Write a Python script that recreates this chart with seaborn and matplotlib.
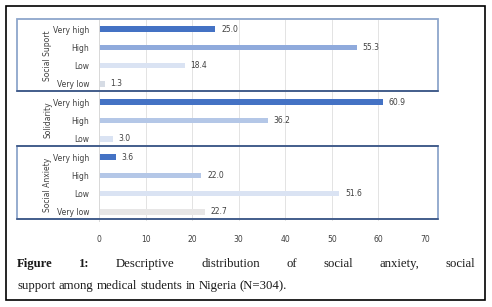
import matplotlib
matplotlib.use("Agg")
import matplotlib.pyplot as plt
from matplotlib.patches import Rectangle
from matplotlib.lines import Line2D
import pandas as pd
import seaborn as sns

# data
groups = ["Social Suport"] * 4 + ["Solidarity"] * 3 + ["Social Anxiety"] * 4
levels = ["Very high", "High", "Low", "Very low",
          "Very high", "High", "Low",
          "Very high", "High", "Low", "Very low"]
values = [25.0, 55.3, 18.4, 1.3,
          60.9, 36.2, 3.0,
          3.6, 22.0, 51.6, 22.7]
bar_colors = ["#4472C4", "#8FAADC", "#DAE3F3", "#D6DCE5",
              "#4472C4", "#B4C7E7", "#DAE3F3",
              "#4472C4", "#B4C7E7", "#DAE3F3", "#E7E6E6"]
x_ticks = [0, 10, 20, 30, 40, 50, 60, 70]

df = pd.DataFrame({"group": groups, "level": levels, "value": values})
df["row"] = [f"{g}|{l}" for g, l in zip(groups, levels)]

W, H = 492, 307
fig = plt.figure(figsize=(W / 100, H / 100), dpi=100)
ax = fig.add_axes([99 / W, 1 - 221 / H, 326 / W, 201 / H])

sns.barplot(data=df, y="row", x="value", hue="row", palette=bar_colors,
            order=list(df["row"]), width=0.3, legend=False, ax=ax,
            saturation=1)

ax.set_xlim(0, 70)
ax.set_ylim(10.5, -0.5)
ax.set_xticks(x_ticks)
ax.set_yticks(range(len(levels)))
ax.set_yticklabels(levels)
ax.set_xlabel("")
ax.set_ylabel("")
ax.tick_params(axis="both", length=0, labelsize=5.5, labelcolor="#404040")
ax.tick_params(axis="x", pad=10)
ax.tick_params(axis="y", pad=7)
ax.grid(axis="x", color="#E3E3E3", linewidth=0.7)
ax.set_axisbelow(True)
for s in ["top", "right", "bottom"]:
    ax.spines[s].set_visible(False)
ax.spines["left"].set_color("#D9D9D9")
ax.spines["left"].set_linewidth(0.7)

for i, v in enumerate(values):
    ax.text(v + 1.2, i, f"{v:.1f}", va="center", ha="left",
            fontsize=5.5, color="#404040")

# group boxes and labels
light = "#8EA6CC"
dark = "#2F4A7A"


def px(x, y):
    return x / W, 1 - y / H


for (y0, y1) in [(19, 91), (146, 219)]:
    fig.patches.append(Rectangle(px(17, y1), 421 / W, (y1 - y0) / H,
                                 transform=fig.transFigure, fill=False,
                                 edgecolor=light, linewidth=1.3))
for (x0, x1, y) in [(17, 438, 91), (17, 438, 146), (17, 438, 219)]:
    fig.lines.append(Line2D([x0 / W, x1 / W], [1 - y / H, 1 - y / H],
                            transform=fig.transFigure, color=dark,
                            linewidth=1.1))

for name, yc in [("Social Suport", 56), ("Solidarity", 120), ("Social Anxiety", 185)]:
    fig.text(*px(48, yc), name, rotation=90, ha="center", va="center",
             fontsize=5.5, color="#404040")

# outer border
fig.patches.append(Rectangle(px(6, 300), 479 / W, 294 / H,
                             transform=fig.transFigure, fill=False,
                             edgecolor="black", linewidth=1.2))

# justified caption
fig.canvas.draw()
renderer = fig.canvas.get_renderer()
cap_font = dict(family="Liberation Serif", fontsize=9.2, color="#1A1A1A")


def place_line(words, y, x0, x1, justify):
    arts = []
    for w, bold in words:
        t = fig.text(0, 1 - y / H, w, va="baseline", ha="left",
                     fontweight="bold" if bold else "normal", **cap_font)
        arts.append(t)
    widths = [a.get_window_extent(renderer).width for a in arts]
    space = fig.text(0, 0, "a a", **cap_font)
    sp = space.get_window_extent(renderer).width
    space.remove()
    one = fig.text(0, 0, "aa", **cap_font)
    sp -= one.get_window_extent(renderer).width
    one.remove()
    if justify and len(arts) > 1:
        gap = (x1 - x0 - sum(widths)) / (len(arts) - 1)
    else:
        gap = sp
    x = x0
    for a, w in zip(arts, widths):
        a.set_x(x / W)
        x += w + gap


line1 = [("Figure", True), ("1:", True), ("Descriptive", False),
         ("distribution", False), ("of", False), ("social", False),
         ("anxiety,", False), ("social", False)]
line2 = [(w, False) for w in
         "support among medical students in Nigeria (N=304).".split()]
place_line(line1, 267, 17, 475, True)
place_line(line2, 289, 17, 475, False)

fig.savefig("out.png", dpi=100)
